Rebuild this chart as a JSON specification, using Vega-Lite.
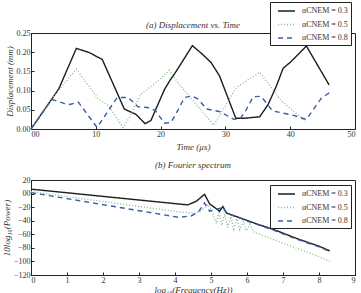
{
  "$schema": "https://vega.github.io/schema/vega-lite/v6.json",
  "padding": {"left": 1, "top": 1, "right": 4, "bottom": 0},
  "config": {
    "font": "Liberation Serif",
    "view": {"stroke": "#222", "strokeWidth": 1},
    "axis": {
      "grid": false,
      "domainColor": "#222",
      "tickColor": "#222",
      "tickSize": -3,
      "labelPadding": 4,
      "labelFont": "Liberation Serif",
      "labelFontSize": 8,
      "labelColor": "#333",
      "titleFont": "Liberation Serif",
      "titleFontStyle": "italic",
      "titleFontWeight": "normal",
      "titleFontSize": 9,
      "titleColor": "#333",
      "titlePadding": 2
    },
    "title": {"font": "Liberation Serif", "fontStyle": "italic", "fontWeight": "normal", "fontSize": 9, "color": "#333", "frame": "group"},
    "legend": {
      "strokeColor": "#222",
      "strokeWidth": 1,
      "fillColor": "white",
      "padding": 3,
      "rowPadding": 3.5,
      "symbolType": "M-0.2,0H3.2",
      "symbolSize": 100,
      "symbolStrokeWidth": 1.5,
      "labelFont": "Liberation Serif",
      "labelFontSize": 8,
      "labelColor": "#333",
      "labelOffset": 17
    },
    "concat": {"spacing": 8}
  },
  "datasets": {
    "displacement": [
      {"t": 0, "v": 0, "series": "αCNEM = 0.3"},
      {"t": 3.7, "v": 0.09, "series": "αCNEM = 0.3"},
      {"t": 4.3, "v": 0.105, "series": "αCNEM = 0.3"},
      {"t": 7.0, "v": 0.21, "series": "αCNEM = 0.3"},
      {"t": 9.0, "v": 0.199, "series": "αCNEM = 0.3"},
      {"t": 11.0, "v": 0.181, "series": "αCNEM = 0.3"},
      {"t": 14.4, "v": 0.052, "series": "αCNEM = 0.3"},
      {"t": 16.2, "v": 0.038, "series": "αCNEM = 0.3"},
      {"t": 17.6, "v": 0.014, "series": "αCNEM = 0.3"},
      {"t": 18.5, "v": 0.022, "series": "αCNEM = 0.3"},
      {"t": 20.6, "v": 0.103, "series": "αCNEM = 0.3"},
      {"t": 21.5, "v": 0.128, "series": "αCNEM = 0.3"},
      {"t": 22.2, "v": 0.145, "series": "αCNEM = 0.3"},
      {"t": 22.7, "v": 0.158, "series": "αCNEM = 0.3"},
      {"t": 24.9, "v": 0.217, "series": "αCNEM = 0.3"},
      {"t": 26.3, "v": 0.197, "series": "αCNEM = 0.3"},
      {"t": 27.8, "v": 0.173, "series": "αCNEM = 0.3"},
      {"t": 29.1, "v": 0.138, "series": "αCNEM = 0.3"},
      {"t": 31.6, "v": 0.028, "series": "αCNEM = 0.3"},
      {"t": 33.0, "v": 0.028, "series": "αCNEM = 0.3"},
      {"t": 35.3, "v": 0.032, "series": "αCNEM = 0.3"},
      {"t": 36.6, "v": 0.064, "series": "αCNEM = 0.3"},
      {"t": 37.9, "v": 0.113, "series": "αCNEM = 0.3"},
      {"t": 38.9, "v": 0.158, "series": "αCNEM = 0.3"},
      {"t": 40.1, "v": 0.175, "series": "αCNEM = 0.3"},
      {"t": 42.5, "v": 0.216, "series": "αCNEM = 0.3"},
      {"t": 44.3, "v": 0.164, "series": "αCNEM = 0.3"},
      {"t": 46.0, "v": 0.115, "series": "αCNEM = 0.3"},

      {"t": 0, "v": 0, "series": "αCNEM = 0.5"},
      {"t": 3.5, "v": 0.085, "series": "αCNEM = 0.5"},
      {"t": 7.0, "v": 0.156, "series": "αCNEM = 0.5"},
      {"t": 10.3, "v": 0.08, "series": "αCNEM = 0.5"},
      {"t": 12.0, "v": 0.06, "series": "αCNEM = 0.5"},
      {"t": 14.2, "v": 0.004, "series": "αCNEM = 0.5"},
      {"t": 15.2, "v": 0.03, "series": "αCNEM = 0.5"},
      {"t": 16.9, "v": 0.09, "series": "αCNEM = 0.5"},
      {"t": 19.6, "v": 0.125, "series": "αCNEM = 0.5"},
      {"t": 21.3, "v": 0.153, "series": "αCNEM = 0.5"},
      {"t": 22.7, "v": 0.12, "series": "αCNEM = 0.5"},
      {"t": 28.2, "v": 0.01, "series": "αCNEM = 0.5"},
      {"t": 31.7, "v": 0.108, "series": "αCNEM = 0.5"},
      {"t": 33.2, "v": 0.125, "series": "αCNEM = 0.5"},
      {"t": 35.3, "v": 0.148, "series": "αCNEM = 0.5"},
      {"t": 38.6, "v": 0.074, "series": "αCNEM = 0.5"},
      {"t": 42.3, "v": 0.02, "series": "αCNEM = 0.5"},

      {"t": 0, "v": 0, "series": "αCNEM = 0.8"},
      {"t": 3.2, "v": 0.077, "series": "αCNEM = 0.8"},
      {"t": 5.2, "v": 0.066, "series": "αCNEM = 0.8"},
      {"t": 6.0, "v": 0.064, "series": "αCNEM = 0.8"},
      {"t": 7.3, "v": 0.07, "series": "αCNEM = 0.8"},
      {"t": 10.2, "v": 0.004, "series": "αCNEM = 0.8"},
      {"t": 13.3, "v": 0.082, "series": "αCNEM = 0.8"},
      {"t": 15.0, "v": 0.082, "series": "αCNEM = 0.8"},
      {"t": 16.5, "v": 0.058, "series": "αCNEM = 0.8"},
      {"t": 18.0, "v": 0.056, "series": "αCNEM = 0.8"},
      {"t": 19.2, "v": 0.048, "series": "αCNEM = 0.8"},
      {"t": 20.6, "v": 0.015, "series": "αCNEM = 0.8"},
      {"t": 21.6, "v": 0.017, "series": "αCNEM = 0.8"},
      {"t": 22.7, "v": 0.05, "series": "αCNEM = 0.8"},
      {"t": 23.7, "v": 0.082, "series": "αCNEM = 0.8"},
      {"t": 24.8, "v": 0.086, "series": "αCNEM = 0.8"},
      {"t": 25.8, "v": 0.078, "series": "αCNEM = 0.8"},
      {"t": 27.1, "v": 0.052, "series": "αCNEM = 0.8"},
      {"t": 29.2, "v": 0.045, "series": "αCNEM = 0.8"},
      {"t": 31.3, "v": 0.025, "series": "αCNEM = 0.8"},
      {"t": 32.3, "v": 0.027, "series": "αCNEM = 0.8"},
      {"t": 33.2, "v": 0.05, "series": "αCNEM = 0.8"},
      {"t": 34.3, "v": 0.084, "series": "αCNEM = 0.8"},
      {"t": 35.5, "v": 0.085, "series": "αCNEM = 0.8"},
      {"t": 37.3, "v": 0.047, "series": "αCNEM = 0.8"},
      {"t": 40.4, "v": 0.036, "series": "αCNEM = 0.8"},
      {"t": 42.5, "v": 0.025, "series": "αCNEM = 0.8"},
      {"t": 44.8, "v": 0.08, "series": "αCNEM = 0.8"},
      {"t": 46.1, "v": 0.095, "series": "αCNEM = 0.8"}
    ],
    "spectrum": [
      {"f": 0, "p": 6.5, "series": "αCNEM = 0.3"},
      {"f": 4.36, "p": -16.7, "series": "αCNEM = 0.3"},
      {"f": 4.6, "p": -11, "series": "αCNEM = 0.3"},
      {"f": 4.82, "p": -1, "series": "αCNEM = 0.3"},
      {"f": 4.96, "p": -15, "series": "αCNEM = 0.3"},
      {"f": 5.24, "p": -26, "series": "αCNEM = 0.3"},
      {"f": 5.33, "p": -19, "series": "αCNEM = 0.3"},
      {"f": 5.43, "p": -28.6, "series": "αCNEM = 0.3"},
      {"f": 6.0, "p": -39.5, "series": "αCNEM = 0.3"},
      {"f": 6.31, "p": -45.5, "series": "αCNEM = 0.3"},
      {"f": 6.72, "p": -52.5, "series": "αCNEM = 0.3"},
      {"f": 7.42, "p": -67, "series": "αCNEM = 0.3"},
      {"f": 8.0, "p": -77.5, "series": "αCNEM = 0.3"},
      {"f": 8.3, "p": -84.5, "series": "αCNEM = 0.3"},

      {"f": 0, "p": 2.9, "series": "αCNEM = 0.5"},
      {"f": 4.1, "p": -27, "series": "αCNEM = 0.5"},
      {"f": 4.6, "p": -29, "series": "αCNEM = 0.5"},
      {"f": 4.8, "p": -22, "series": "αCNEM = 0.5"},
      {"f": 4.92, "p": -16, "series": "αCNEM = 0.5"},
      {"f": 5.05, "p": -30, "series": "αCNEM = 0.5"},
      {"f": 5.15, "p": -44, "series": "αCNEM = 0.5"},
      {"f": 5.22, "p": -26, "series": "αCNEM = 0.5"},
      {"f": 5.3, "p": -47, "series": "αCNEM = 0.5"},
      {"f": 5.38, "p": -30, "series": "αCNEM = 0.5"},
      {"f": 5.46, "p": -50, "series": "αCNEM = 0.5"},
      {"f": 5.55, "p": -34, "series": "αCNEM = 0.5"},
      {"f": 5.63, "p": -52, "series": "αCNEM = 0.5"},
      {"f": 5.72, "p": -37, "series": "αCNEM = 0.5"},
      {"f": 5.8, "p": -53, "series": "αCNEM = 0.5"},
      {"f": 5.9, "p": -41, "series": "αCNEM = 0.5"},
      {"f": 5.98, "p": -55, "series": "αCNEM = 0.5"},
      {"f": 6.08, "p": -45, "series": "αCNEM = 0.5"},
      {"f": 6.17, "p": -56, "series": "αCNEM = 0.5"},
      {"f": 6.4, "p": -61, "series": "αCNEM = 0.5"},
      {"f": 7.0, "p": -73, "series": "αCNEM = 0.5"},
      {"f": 7.5, "p": -83, "series": "αCNEM = 0.5"},
      {"f": 8.0, "p": -93, "series": "αCNEM = 0.5"},
      {"f": 8.3, "p": -100, "series": "αCNEM = 0.5"},

      {"f": 0, "p": 1.4, "series": "αCNEM = 0.8"},
      {"f": 4.1, "p": -35, "series": "αCNEM = 0.8"},
      {"f": 4.45, "p": -33, "series": "αCNEM = 0.8"},
      {"f": 4.65, "p": -27, "series": "αCNEM = 0.8"},
      {"f": 4.82, "p": -14, "series": "αCNEM = 0.8"},
      {"f": 4.96, "p": -26, "series": "αCNEM = 0.8"},
      {"f": 5.1, "p": -23, "series": "αCNEM = 0.8"},
      {"f": 5.24, "p": -22, "series": "αCNEM = 0.8"},
      {"f": 5.33, "p": -20, "series": "αCNEM = 0.8"},
      {"f": 5.43, "p": -29, "series": "αCNEM = 0.8"},
      {"f": 5.9, "p": -38, "series": "αCNEM = 0.8"},
      {"f": 6.0, "p": -40.5, "series": "αCNEM = 0.8"},
      {"f": 6.72, "p": -53.5, "series": "αCNEM = 0.8"},
      {"f": 7.42, "p": -68, "series": "αCNEM = 0.8"},
      {"f": 8.0, "p": -78.5, "series": "αCNEM = 0.8"},
      {"f": 8.3, "p": -85.5, "series": "αCNEM = 0.8"}
    ]
  },
  "vconcat": [
    {
      "width": 324,
      "height": 96,
      "title": {"text": "(a) Displacement vs. Time", "offset": -28},
      "data": {"name": "displacement"},
      "mark": {"type": "line", "strokeWidth": 1.4},
      "encoding": {
        "x": {
          "field": "t", "type": "quantitative",
          "scale": {"domain": [0, 50], "nice": false},
          "axis": {"title": "Time (μs)", "titlePadding": 4, "values": [0, 10, 20, 30, 40, 50], "labelExpr": "datum.value == 0 ? '00' : datum.label"}
        },
        "y": {
          "field": "v", "type": "quantitative",
          "scale": {"domain": [0, 0.25], "nice": false},
          "axis": {"title": "Displacement (mm)", "values": [0, 0.05, 0.1, 0.15, 0.2, 0.25], "format": ".2f"}
        },
        "color": {
          "field": "series", "type": "nominal",
          "scale": {"domain": ["αCNEM = 0.3", "αCNEM = 0.5", "αCNEM = 0.8"], "range": ["#1c1c1c", "#8fba8f", "#3a5da3"]},
          "legend": {"title": null, "orient": "none", "legendX": 239, "legendY": -31}
        },
        "strokeDash": {
          "field": "series", "type": "nominal",
          "scale": {"domain": ["αCNEM = 0.3", "αCNEM = 0.5", "αCNEM = 0.8"], "range": [[1, 0], [1, 2], [5, 4]]},
          "legend": {"title": null, "orient": "none", "legendX": 239, "legendY": -31}
        }
      }
    },
    {
      "width": 324,
      "height": 95,
      "title": {"text": "(b) Fourier spectrum", "offset": 6},
      "data": {"name": "spectrum"},
      "mark": {"type": "line", "strokeWidth": 1.4},
      "encoding": {
        "x": {
          "field": "f", "type": "quantitative",
          "scale": {"domain": [0, 9], "nice": false},
          "axis": {"title": "log₁₀(Frequency(Hz))", "titlePadding": 1, "values": [0, 1, 2, 3, 4, 5, 6, 7, 8, 9]}
        },
        "y": {
          "field": "p", "type": "quantitative",
          "scale": {"domain": [-120, 20], "nice": false},
          "axis": {"title": "10log₁₀(Power)", "values": [-120, -100, -80, -60, -40, -20, 0, 20], "labelExpr": "datum.value == 0 ? '00' : datum.label"}
        },
        "color": {
          "field": "series", "type": "nominal",
          "scale": {"domain": ["αCNEM = 0.3", "αCNEM = 0.5", "αCNEM = 0.8"], "range": ["#1c1c1c", "#8fba8f", "#3a5da3"]},
          "legend": {"title": null, "orient": "none", "legendX": 239, "legendY": 5}
        },
        "strokeDash": {
          "field": "series", "type": "nominal",
          "scale": {"domain": ["αCNEM = 0.3", "αCNEM = 0.5", "αCNEM = 0.8"], "range": [[1, 0], [1, 2], [5, 4]]},
          "legend": {"title": null, "orient": "none", "legendX": 239, "legendY": 5}
        }
      }
    }
  ],
  "resolve": {"scale": {"color": "independent", "strokeDash": "independent"}, "legend": {"color": "independent", "strokeDash": "independent"}}
}
